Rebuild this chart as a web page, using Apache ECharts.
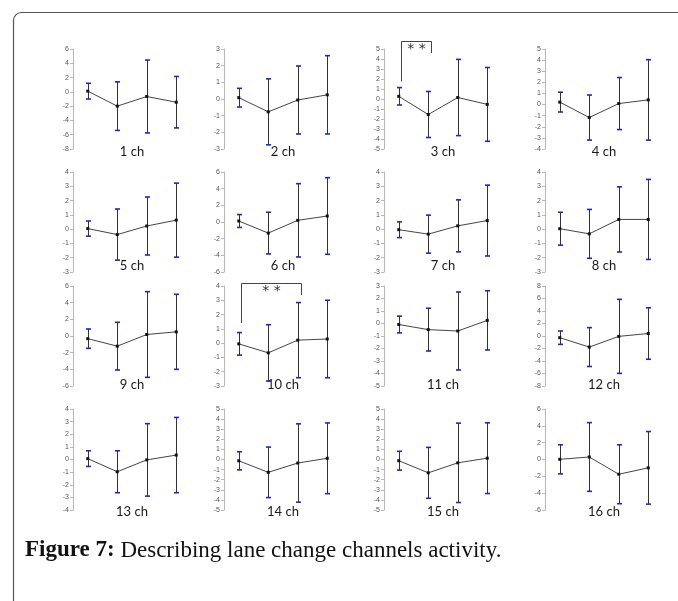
<!DOCTYPE html>
<html>
<head>
<meta charset="utf-8">
<script src="https://cdn.jsdelivr.net/npm/echarts@6/dist/echarts.min.js"></script>
<style>
  html, body { margin: 0; background: #ffffff; }
  #chart { width: 678px; height: 601px; }
</style>
</head>
<body>
<div id="chart"></div>
<script>
// 4 conditions per channel, mean and SD
const categories = ['1', '2', '3', '4'];
const channelNames = ['1 ch', '2 ch', '3 ch', '4 ch', '5 ch', '6 ch', '7 ch', '8 ch',
  '9 ch', '10 ch', '11 ch', '12 ch', '13 ch', '14 ch', '15 ch', '16 ch'];
const means = [
  [0.1, -2.0, -0.65, -1.45],
  [0.08, -0.77, -0.06, 0.25],
  [0.27, -1.55, 0.15, -0.54],
  [0.22, -1.17, 0.09, 0.42],
  [0.04, -0.38, 0.22, 0.63],
  [0.12, -1.33, 0.2, 0.72],
  [-0.04, -0.35, 0.23, 0.6],
  [0.03, -0.33, 0.68, 0.68],
  [-0.32, -1.22, 0.18, 0.5],
  [-0.05, -0.68, 0.21, 0.29],
  [-0.08, -0.49, -0.6, 0.25],
  [-0.27, -1.77, -0.06, 0.4],
  [0.07, -0.97, -0.03, 0.35],
  [-0.13, -1.27, -0.35, 0.12],
  [-0.12, -1.32, -0.33, 0.13],
  [0.02, 0.3, -1.75, -0.99]
];
const sds = [
  [1.1, 3.4, 5.1, 3.6],
  [0.56, 1.98, 2.04, 2.35],
  [0.87, 2.3, 3.81, 3.69],
  [0.89, 2.03, 2.34, 3.62],
  [0.53, 1.79, 2.03, 2.59],
  [0.77, 2.5, 4.4, 4.6],
  [0.55, 1.33, 1.82, 2.48],
  [1.15, 1.71, 2.28, 2.8],
  [1.16, 2.86, 5.14, 4.5],
  [0.79, 1.97, 2.63, 2.71],
  [0.67, 1.71, 3.12, 2.37],
  [1.07, 3.11, 5.92, 4.12],
  [0.62, 1.66, 2.87, 2.98],
  [0.9, 2.5, 3.88, 3.5],
  [0.93, 2.52, 3.93, 3.5],
  [1.73, 4.08, 3.5, 4.31]
];
// y axis ticks of each panel
const yMin = [-8, -3, -5, -4, -3, -6, -3, -3, -6, -3, -5, -8, -4, -5, -5, -6];
const yMax = [6, 3, 5, 5, 4, 6, 4, 4, 6, 4, 3, 8, 4, 5, 5, 6];
const yStep = [2, 1, 1, 1, 1, 2, 1, 1, 2, 1, 1, 2, 1, 1, 1, 2];
// significance brackets: panel, from, to, left leg end, right leg end, top (data units)
const brackets = [
  [2, 0, 1, 1.75, 4.6, 5.8, '**'],
  [9, 0, 2, 1.41, 3.37, 4.2, '**']
];

const colX = [73, 224, 384, 545];
const rowTop = [49, 172, 286, 409];
const rowH = [100, 100, 100, 101];
const rowNameGap = [-4, -13, -8, -5];
const plotW = 118;

const chart = echarts.init(document.getElementById('chart'));

function renderErrorBar(params, api) {
  const x = api.value(0);
  const lo = api.coord([x, api.value(1)]);
  const hi = api.coord([x, api.value(2)]);
  const px = Math.round(lo[0]) + 0.5;
  const cap = 2.5;
  const capStyle = { stroke: '#2323c8', lineWidth: 1.6 };
  return {
    type: 'group',
    children: [
      { type: 'line', shape: { x1: px, y1: lo[1], x2: px, y2: hi[1] }, style: { stroke: '#333', lineWidth: 1 } },
      { type: 'line', shape: { x1: px - cap, y1: hi[1], x2: px + cap, y2: hi[1] }, style: capStyle },
      { type: 'line', shape: { x1: px - cap, y1: lo[1], x2: px + cap, y2: lo[1] }, style: capStyle }
    ]
  };
}

function renderBracket(params, api) {
  const a = api.coord([api.value(0), api.value(2)]);
  const b = api.coord([api.value(0), api.value(4)]);
  const c = api.coord([api.value(1), api.value(4)]);
  const d = api.coord([api.value(1), api.value(3)]);
  const x1 = Math.round(a[0]) + 2.5, x2 = Math.round(c[0]) + 3.5, yt = Math.round(b[1]) + 0.5;
  return {
    type: 'group',
    children: [
      { type: 'polyline', shape: { points: [[x1, a[1]], [x1, yt], [x2, yt], [x2, d[1]]] },
        style: { stroke: '#444', lineWidth: 1, fill: 'none' } },
      { type: 'text', x: (x1 + x2) / 2, y: yt + 0.5,
        style: { text: api.value(5) ? '* *' : '', fontSize: 14, fontFamily: 'DejaVu Sans', fill: '#333',
          align: 'center', verticalAlign: 'top' } }
    ]
  };
}

const grid = [], xAxis = [], yAxis = [], series = [];
for (let i = 0; i < 16; i++) {
  const r = Math.floor(i / 4), c = i % 4;
  grid.push({ left: colX[c], top: rowTop[r], width: plotW, height: rowH[r] });
  xAxis.push({
    type: 'category', gridIndex: i, data: categories, boundaryGap: true,
    axisLine: { show: false }, axisTick: { show: false }, axisLabel: { show: false },
    name: channelNames[i], nameLocation: 'middle', nameGap: rowNameGap[r],
    nameTextStyle: { fontSize: 13, color: '#1a1a1a', fontFamily: 'Lato' }
  });
  yAxis.push({
    type: 'value', gridIndex: i, min: yMin[i], max: yMax[i], interval: yStep[i],
    splitLine: { show: false },
    axisLine: { show: true, lineStyle: { color: '#b8b8b8', width: 1 } },
    axisTick: { show: true, length: 3, lineStyle: { color: '#b8b8b8' } },
    axisLabel: { fontSize: 7, color: '#555', margin: 4, fontFamily: 'Liberation Sans' }
  });
  series.push({
    type: 'custom', xAxisIndex: i, yAxisIndex: i, renderItem: renderErrorBar,
    encode: { x: 0, y: [1, 2] }, silent: true,
    data: means[i].map((m, k) => [k, +(m - sds[i][k]).toFixed(2), +(m + sds[i][k]).toFixed(2)])
  });
  series.push({
    type: 'line', xAxisIndex: i, yAxisIndex: i, data: means[i],
    symbol: 'rect', symbolSize: 3, showSymbol: true,
    lineStyle: { color: '#444', width: 1 }, itemStyle: { color: '#111' }, z: 3
  });
}
brackets.forEach(b => {
  series.push({
    type: 'custom', xAxisIndex: b[0], yAxisIndex: b[0], renderItem: renderBracket, clip: false,
    encode: { x: [0, 1], y: [2, 3, 4] }, silent: true,
    data: [[b[1], b[2], b[3], b[4], b[5], b[6] ? 1 : 0]]
  });
});

chart.setOption({
  animation: false,
  backgroundColor: '#ffffff',
  grid: grid,
  xAxis: xAxis,
  yAxis: yAxis,
  series: series,
  graphic: [
    { type: 'rect', shape: { x: 13.5, y: 12.5, width: 720, height: 640, r: 8 },
      style: { fill: 'none', stroke: '#555', lineWidth: 1.2 }, silent: true },
    { type: 'text', left: 25, top: 539,
      style: { text: '{b|Figure 7:} Describing lane change channels activity.',
        fontSize: 23, fontFamily: 'Liberation Serif', fill: '#111',
        rich: { b: { fontSize: 23, fontFamily: 'Liberation Serif', fontWeight: 'bold', fill: '#111' } } } }
  ]
});
</script>
</body>
</html>
